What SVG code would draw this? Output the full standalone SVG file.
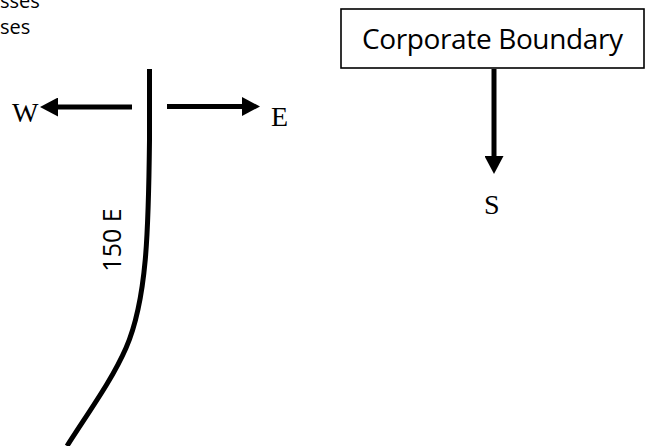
<svg xmlns="http://www.w3.org/2000/svg" width="650" height="446" viewBox="0 0 650 446">
<defs>
<style>
.cal{font-family:"Open Sans","Liberation Sans",sans-serif;fill:#000}
.tnr{font-family:"Liberation Serif","Times New Roman",serif;fill:#000;font-size:28px}
.shaft{stroke:#000;stroke-width:5;fill:none}
.curve{stroke:#000;stroke-width:5;fill:none;stroke-linecap:butt}
</style>
<marker id="head" markerUnits="userSpaceOnUse" markerWidth="19" markerHeight="19" refX="0" refY="9.5" orient="auto" viewBox="0 0 19 19">
<path d="M0,0 L18,9.5 L0,19 Z" fill="#000"/>
</marker>
</defs>
<rect width="650" height="446" fill="#fff"/>
<g id="fragment">
<text class="cal" x="0" y="8" font-size="20">sses</text>
<text class="cal" x="0" y="34" font-size="20">ses</text>
</g>
<g id="boundary-line">
<path class="curve" d="M149.5,69 L149.5,140 C148.5,230 147,300 126,348 C112,380 90,410 67,446"/>
<text class="cal" font-size="25" text-anchor="middle" transform="translate(121,240) rotate(-90)">150 E</text>
</g>
<g id="corporate-boundary">
<rect x="341" y="9" width="303" height="59" fill="#fff" stroke="#000" stroke-width="1.6"/>
<text class="cal" x="362" y="49" font-size="28" textLength="261">Corporate Boundary</text>
</g>
<g id="label-w"><text class="tnr" x="12" y="122">W</text></g>
<g id="label-e"><text class="tnr" x="271" y="126">E</text></g>
<g id="label-s"><text class="tnr" x="484" y="214">S</text></g>
<g id="connectors">
<line class="shaft" x1="132" y1="107" x2="58" y2="107" marker-end="url(#head)"/>
<line class="shaft" x1="167" y1="106.5" x2="242" y2="106.5" marker-end="url(#head)"/>
<line class="shaft" x1="494" y1="69" x2="494" y2="156" marker-end="url(#head)"/>
</g>
</svg>
